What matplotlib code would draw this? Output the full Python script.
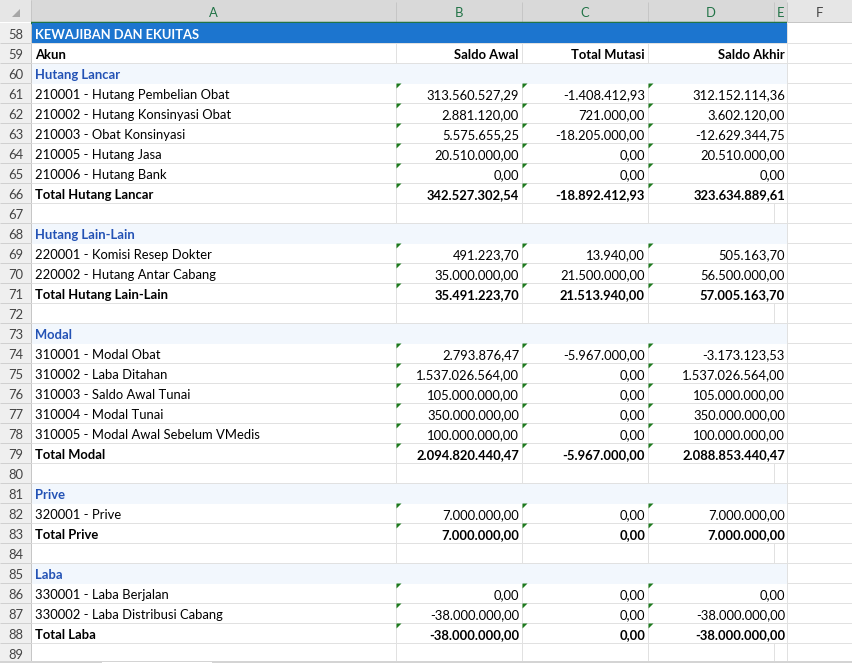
import matplotlib
matplotlib.use("Agg")
import matplotlib.pyplot as plt
from matplotlib.patches import Rectangle, Polygon

# ---------------- data ----------------
title = "KEWAJIBAN DAN EKUITAS"
col_headers = ["Akun", "Saldo Awal", "Total Mutasi", "Saldo Akhir"]
sheet_cols = ["A", "B", "C", "D", "E", "F"]
first_row_number = 58

section_names = ["Hutang Lancar", "Hutang Lain-Lain", "Modal", "Prive", "Laba"]

hl_akun = ["210001 - Hutang Pembelian Obat", "210002 - Hutang Konsinyasi Obat",
           "210003 - Obat Konsinyasi", "210005 - Hutang Jasa", "210006 - Hutang Bank"]
hl_awal = [313560527.29, 2881120.00, 5575655.25, 20510000.00, 0.00]
hl_mutasi = [-1408412.93, 721000.00, -18205000.00, 0.00, 0.00]
hl_akhir = [312152114.36, 3602120.00, -12629344.75, 20510000.00, 0.00]
hl_total = [342527302.54, -18892412.93, 323634889.61]

hll_akun = ["220001 - Komisi Resep Dokter", "220002 - Hutang Antar Cabang"]
hll_awal = [491223.70, 35000000.00]
hll_mutasi = [13940.00, 21500000.00]
hll_akhir = [505163.70, 56500000.00]
hll_total = [35491223.70, 21513940.00, 57005163.70]

modal_akun = ["310001 - Modal Obat", "310002 - Laba Ditahan", "310003 - Saldo Awal Tunai",
              "310004 - Modal Tunai", "310005 - Modal Awal Sebelum VMedis"]
modal_awal = [2793876.47, 1537026564.00, 105000000.00, 350000000.00, 100000000.00]
modal_mutasi = [-5967000.00, 0.00, 0.00, 0.00, 0.00]
modal_akhir = [-3173123.53, 1537026564.00, 105000000.00, 350000000.00, 100000000.00]
modal_total = [2094820440.47, -5967000.00, 2088853440.47]

prive_akun = ["320001 - Prive"]
prive_awal = [7000000.00]
prive_mutasi = [0.00]
prive_akhir = [7000000.00]
prive_total = [7000000.00, 0.00, 7000000.00]

laba_akun = ["330001 - Laba Berjalan", "330002 - Laba Distribusi Cabang"]
laba_awal = [0.00, -38000000.00]
laba_mutasi = [0.00, 0.00]
laba_akhir = [0.00, -38000000.00]
laba_total = [-38000000.00, 0.00, -38000000.00]

sections = [
    (section_names[0], hl_akun, hl_awal, hl_mutasi, hl_akhir, hl_total),
    (section_names[1], hll_akun, hll_awal, hll_mutasi, hll_akhir, hll_total),
    (section_names[2], modal_akun, modal_awal, modal_mutasi, modal_akhir, modal_total),
    (section_names[3], prive_akun, prive_awal, prive_mutasi, prive_akhir, prive_total),
    (section_names[4], laba_akun, laba_awal, laba_mutasi, laba_akhir, laba_total),
]


def fmt(v):
    s = "{:,.2f}".format(v)
    return s.replace(",", "#").replace(".", ",").replace("#", ".")


# ---------------- build row list ----------------
rows = [("title", title, None), ("header", None, None)]
for name, akun, awal, mut, akhir, tot in sections:
    rows.append(("section", name, None))
    for i, a in enumerate(akun):
        rows.append(("item", a, [awal[i], mut[i], akhir[i]]))
    rows.append(("total", "Total " + name, tot))
    rows.append(("blank", None, None))

# ---------------- layout (pixels) ----------------
W, H = 852, 663
FONT = "Lato"
FS = 9.4
col_x = [31, 396, 522, 648, 774, 787, 852]  # A,B,C,D,E,F boundaries
hdr_h = 22
row_top0 = 23
row_h = 20
BASE = 15.7

grid = "#E1E1E1"
blue_fill = "#1C75CF"
sec_fill = "#F2F7FD"
sec_text = "#2352B5"
hdr_sel = "#D9D9D9"
hdr_bg = "#E6E6E6"
rowhdr_bg = "#EFEFEF"
green = "#217346"

fig = plt.figure(figsize=(W / 100, H / 100), dpi=100)
ax = fig.add_axes([0, 0, 1, 1])
ax.set_xlim(0, W)
ax.set_ylim(H, 0)
ax.axis("off")
px = 0.72  # 1 px in points


def hline(y, x0, x1, c=grid, lw=1):
    ax.plot([x0, x1], [y, y], color=c, lw=lw * px, solid_capstyle="butt")


def vline(x, y0, y1, c=grid, lw=1):
    ax.plot([x, x], [y0, y1], color=c, lw=lw * px, solid_capstyle="butt")


def txt(x, y, s, ha="left", **kw):
    kw.setdefault("color", "black")
    ax.text(x, y, s, ha=ha, va="baseline", fontsize=FS, family=FONT, **kw)


# column header band
ax.add_patch(Rectangle((0, 0), col_x[0], hdr_h, color=hdr_bg, lw=0))
ax.add_patch(Rectangle((col_x[0], 0), col_x[5] - col_x[0], hdr_h, color=hdr_sel, lw=0))
ax.add_patch(Rectangle((col_x[5], 0), W - col_x[5], hdr_h, color=hdr_bg, lw=0))
ax.add_patch(Polygon([[20, 9], [20, 17], [12, 17]], closed=True, color="#A6A6A6", lw=0))
for i, letter in enumerate(sheet_cols):
    xc = (col_x[i] + col_x[i + 1]) / 2
    if letter == "E":
        xc = col_x[4] + 6
    txt(xc, 17, letter, ha="center", color=green if letter != "F" else "#444444")
for x in col_x[1:]:
    vline(x, 2, hdr_h, c="#C6C6C6")
vline(col_x[0], 0, H, c="#C6C6C6")
hline(hdr_h + 0.5, col_x[0], col_x[5], c=green, lw=2.5)
hline(hdr_h, col_x[5], W, c="#C6C6C6")

# row header column
ax.add_patch(Rectangle((0, row_top0), col_x[0], H - row_top0, color=rowhdr_bg, lw=0))

rights = [col_x[2] - 3, col_x[3] - 3, col_x[5] - 2]
for r, (kind, label, vals) in enumerate(rows):
    top = row_top0 + r * row_h
    bot = top + row_h
    yb = top + BASE
    # row number
    txt(16, yb, str(first_row_number + r), ha="center", color="#444444")
    hline(bot, 0, col_x[0], c="#D0D0D0")
    # gridlines
    hline(bot, col_x[0], W)
    vline(col_x[5], top, bot)
    vline(col_x[6] - 0.5, top, bot)
    if kind in ("item", "total", "header"):
        for x in col_x[1:4]:
            vline(x, top, bot)
    if kind == "blank":
        for x in col_x[1:5]:
            vline(x, top, bot)
    if kind == "title":
        ax.add_patch(Rectangle((col_x[0] + 0.5, top), col_x[5] - col_x[0] - 0.5, row_h,
                               color=blue_fill, lw=0, zorder=3))
        txt(col_x[0] + 4, yb, label, weight="bold", color="white", zorder=4)
    elif kind == "section":
        ax.add_patch(Rectangle((col_x[0] + 0.5, top + 0.5), col_x[5] - col_x[0] - 0.5, row_h,
                               color=sec_fill, lw=0, zorder=3))
        txt(col_x[0] + 4, yb, label, weight="bold", color=sec_text, zorder=4)
    elif kind == "header":
        txt(col_x[0] + 4, yb, col_headers[0], weight="bold")
        for j in range(3):
            txt(rights[j], yb, col_headers[j + 1], ha="right", weight="bold")
    elif kind in ("item", "total"):
        w = "bold" if kind == "total" else "normal"
        txt(col_x[0] + 4, yb, label, weight=w)
        for j in range(3):
            txt(rights[j], yb, fmt(vals[j]), ha="right", weight=w)
            xl = col_x[1 + j] + 0.5
            ax.add_patch(Polygon([[xl, top + 0.5], [xl + 5, top + 0.5], [xl, top + 5.5]],
                                 closed=True, color="#1E7B1E", lw=0, zorder=5))

# bottom strip
ax.add_patch(Rectangle((0, 660.5), W, 3, color="#D4D4D4", lw=0, zorder=6))
ax.add_patch(Rectangle((102, 661.5), 110, 2, color="white", lw=0, zorder=7))

fig.savefig("out.png", dpi=100)
